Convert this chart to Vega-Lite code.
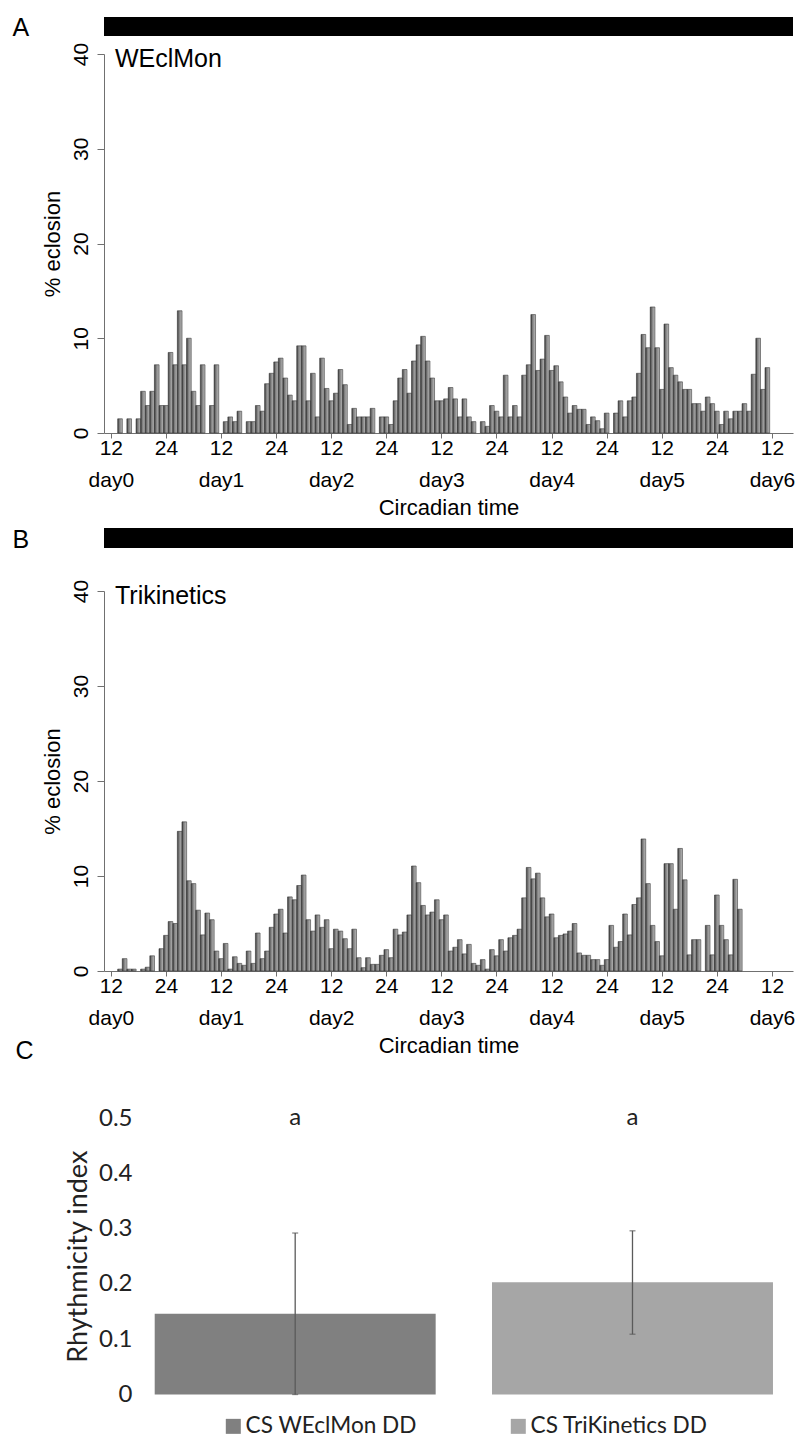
{
  "$schema": "https://vega.github.io/schema/vega-lite/v6.json",
  "padding": {"left": 12, "top": 15, "right": 0, "bottom": 0},
  "background": "white",
  "config": {
    "view": {"stroke": null},
    "font": "Liberation Sans",
    "axis": {"grid": false, "domainColor": "#707070", "tickColor": "#707070", "labelColor": "#000000", "titleColor": "#000000", "titleFontWeight": "normal"}
  },
  "datasets": {
    "wecl": [
      {"h": 2, "pct": 1.5}, {"h": 4, "pct": 1.5}, {"h": 6, "pct": 1.5}, {"h": 7, "pct": 4.4}, {"h": 8, "pct": 2.9},
      {"h": 9, "pct": 4.4}, {"h": 10, "pct": 7.2}, {"h": 11, "pct": 2.9}, {"h": 12, "pct": 2.9}, {"h": 13, "pct": 8.5},
      {"h": 14, "pct": 7.2}, {"h": 15, "pct": 12.9}, {"h": 16, "pct": 7.2}, {"h": 17, "pct": 10.0}, {"h": 18, "pct": 4.4},
      {"h": 19, "pct": 2.9}, {"h": 20, "pct": 7.2}, {"h": 22, "pct": 2.9}, {"h": 23, "pct": 7.2}, {"h": 25, "pct": 1.2},
      {"h": 26, "pct": 1.7}, {"h": 27, "pct": 1.2}, {"h": 28, "pct": 2.3}, {"h": 30, "pct": 1.2}, {"h": 31, "pct": 1.2},
      {"h": 32, "pct": 2.9}, {"h": 33, "pct": 2.3}, {"h": 34, "pct": 5.2}, {"h": 35, "pct": 6.3}, {"h": 36, "pct": 7.5},
      {"h": 37, "pct": 7.9}, {"h": 38, "pct": 5.8}, {"h": 39, "pct": 4.0}, {"h": 40, "pct": 3.4}, {"h": 41, "pct": 9.2},
      {"h": 42, "pct": 9.2}, {"h": 43, "pct": 3.4}, {"h": 44, "pct": 6.3}, {"h": 45, "pct": 1.7}, {"h": 46, "pct": 7.9},
      {"h": 47, "pct": 4.7}, {"h": 48, "pct": 3.4}, {"h": 49, "pct": 4.2}, {"h": 50, "pct": 6.7}, {"h": 51, "pct": 5.1},
      {"h": 52, "pct": 0.9}, {"h": 53, "pct": 2.6}, {"h": 54, "pct": 1.7}, {"h": 55, "pct": 1.7}, {"h": 56, "pct": 1.7},
      {"h": 57, "pct": 2.6}, {"h": 59, "pct": 1.7}, {"h": 60, "pct": 1.7}, {"h": 61, "pct": 0.9}, {"h": 62, "pct": 3.4},
      {"h": 63, "pct": 5.8}, {"h": 64, "pct": 6.7}, {"h": 65, "pct": 4.2}, {"h": 66, "pct": 7.6}, {"h": 67, "pct": 9.3},
      {"h": 68, "pct": 10.2}, {"h": 69, "pct": 7.6}, {"h": 70, "pct": 5.8}, {"h": 71, "pct": 3.4}, {"h": 72, "pct": 3.4},
      {"h": 73, "pct": 3.6}, {"h": 74, "pct": 4.8}, {"h": 75, "pct": 3.6}, {"h": 76, "pct": 1.7}, {"h": 77, "pct": 3.6},
      {"h": 78, "pct": 1.7}, {"h": 79, "pct": 1.2}, {"h": 81, "pct": 1.2}, {"h": 82, "pct": 0.7}, {"h": 83, "pct": 2.9},
      {"h": 84, "pct": 2.3}, {"h": 85, "pct": 1.7}, {"h": 86, "pct": 6.1}, {"h": 87, "pct": 1.7}, {"h": 88, "pct": 2.9},
      {"h": 89, "pct": 1.7}, {"h": 90, "pct": 6.1}, {"h": 91, "pct": 7.2}, {"h": 92, "pct": 12.5}, {"h": 93, "pct": 6.6},
      {"h": 94, "pct": 7.8}, {"h": 95, "pct": 10.3}, {"h": 96, "pct": 6.6}, {"h": 97, "pct": 7.1}, {"h": 98, "pct": 5.4},
      {"h": 99, "pct": 3.8}, {"h": 100, "pct": 2.1}, {"h": 101, "pct": 2.9}, {"h": 102, "pct": 2.5}, {"h": 103, "pct": 2.5},
      {"h": 104, "pct": 0.9}, {"h": 105, "pct": 1.7}, {"h": 106, "pct": 1.3}, {"h": 107, "pct": 0.45}, {"h": 108, "pct": 2.1},
      {"h": 110, "pct": 2.1}, {"h": 111, "pct": 3.4}, {"h": 112, "pct": 1.7}, {"h": 113, "pct": 3.4}, {"h": 114, "pct": 3.8},
      {"h": 115, "pct": 6.3}, {"h": 116, "pct": 10.4}, {"h": 117, "pct": 9.0}, {"h": 118, "pct": 13.3}, {"h": 119, "pct": 9.0},
      {"h": 120, "pct": 4.6}, {"h": 121, "pct": 11.5}, {"h": 122, "pct": 6.9}, {"h": 123, "pct": 6.1}, {"h": 124, "pct": 5.4},
      {"h": 125, "pct": 4.6}, {"h": 126, "pct": 4.6}, {"h": 127, "pct": 3.1}, {"h": 128, "pct": 3.1}, {"h": 129, "pct": 2.3},
      {"h": 130, "pct": 3.8}, {"h": 131, "pct": 3.1}, {"h": 132, "pct": 2.3}, {"h": 133, "pct": 0.9}, {"h": 134, "pct": 2.3},
      {"h": 135, "pct": 1.5}, {"h": 136, "pct": 2.3}, {"h": 137, "pct": 2.3}, {"h": 138, "pct": 3.1}, {"h": 139, "pct": 2.3},
      {"h": 140, "pct": 6.2}, {"h": 141, "pct": 10.0}, {"h": 142, "pct": 4.6}, {"h": 143, "pct": 6.9}
    ],
    "trik": [
      {"h": 2, "pct": 0.2}, {"h": 3, "pct": 1.3}, {"h": 4, "pct": 0.2}, {"h": 5, "pct": 0.2}, {"h": 7, "pct": 0.2},
      {"h": 8, "pct": 0.4}, {"h": 9, "pct": 1.6}, {"h": 11, "pct": 2.35}, {"h": 12, "pct": 3.75}, {"h": 13, "pct": 5.2},
      {"h": 14, "pct": 5.0}, {"h": 15, "pct": 14.7}, {"h": 16, "pct": 15.7}, {"h": 17, "pct": 9.5}, {"h": 18, "pct": 9.2},
      {"h": 19, "pct": 6.4}, {"h": 20, "pct": 3.8}, {"h": 21, "pct": 6.1}, {"h": 22, "pct": 5.4}, {"h": 23, "pct": 2.1},
      {"h": 24, "pct": 1.3}, {"h": 25, "pct": 2.9}, {"h": 26, "pct": 0.2}, {"h": 27, "pct": 1.5}, {"h": 28, "pct": 0.8},
      {"h": 29, "pct": 0.6}, {"h": 30, "pct": 2.1}, {"h": 31, "pct": 0.8}, {"h": 32, "pct": 4.0}, {"h": 33, "pct": 1.3},
      {"h": 34, "pct": 2.1}, {"h": 35, "pct": 4.6}, {"h": 36, "pct": 6.0}, {"h": 37, "pct": 6.5}, {"h": 38, "pct": 4.0},
      {"h": 39, "pct": 7.8}, {"h": 40, "pct": 7.5}, {"h": 41, "pct": 9.0}, {"h": 42, "pct": 10.1}, {"h": 43, "pct": 5.4},
      {"h": 44, "pct": 4.2}, {"h": 45, "pct": 5.9}, {"h": 46, "pct": 4.6}, {"h": 47, "pct": 5.4}, {"h": 48, "pct": 2.35},
      {"h": 49, "pct": 4.4}, {"h": 50, "pct": 4.2}, {"h": 51, "pct": 3.4}, {"h": 52, "pct": 2.35}, {"h": 53, "pct": 4.4},
      {"h": 54, "pct": 1.4}, {"h": 55, "pct": 0.35}, {"h": 56, "pct": 1.4}, {"h": 57, "pct": 0.7}, {"h": 58, "pct": 0.7},
      {"h": 59, "pct": 1.65}, {"h": 60, "pct": 2.25}, {"h": 61, "pct": 1.4}, {"h": 62, "pct": 4.4}, {"h": 63, "pct": 3.8},
      {"h": 64, "pct": 4.1}, {"h": 65, "pct": 5.9}, {"h": 66, "pct": 11.05}, {"h": 67, "pct": 9.3}, {"h": 68, "pct": 6.9},
      {"h": 69, "pct": 5.9}, {"h": 70, "pct": 6.2}, {"h": 71, "pct": 7.5}, {"h": 72, "pct": 5.4}, {"h": 73, "pct": 5.9},
      {"h": 74, "pct": 2.1}, {"h": 75, "pct": 2.5}, {"h": 76, "pct": 3.3}, {"h": 77, "pct": 1.8}, {"h": 78, "pct": 2.8},
      {"h": 79, "pct": 0.8}, {"h": 80, "pct": 0.6}, {"h": 81, "pct": 1.2}, {"h": 82, "pct": 0.2}, {"h": 83, "pct": 2.25},
      {"h": 84, "pct": 1.6}, {"h": 85, "pct": 3.3}, {"h": 86, "pct": 2.1}, {"h": 87, "pct": 3.5}, {"h": 88, "pct": 3.75},
      {"h": 89, "pct": 4.4}, {"h": 90, "pct": 7.7}, {"h": 91, "pct": 10.9}, {"h": 92, "pct": 9.7}, {"h": 93, "pct": 10.3},
      {"h": 94, "pct": 7.7}, {"h": 95, "pct": 5.7}, {"h": 96, "pct": 6.0}, {"h": 97, "pct": 3.5}, {"h": 98, "pct": 3.75},
      {"h": 99, "pct": 3.9}, {"h": 100, "pct": 4.2}, {"h": 101, "pct": 5.0}, {"h": 102, "pct": 1.9}, {"h": 103, "pct": 1.65},
      {"h": 104, "pct": 1.65}, {"h": 105, "pct": 1.2}, {"h": 106, "pct": 1.2}, {"h": 107, "pct": 0.6}, {"h": 108, "pct": 1.2},
      {"h": 109, "pct": 4.8}, {"h": 110, "pct": 2.5}, {"h": 111, "pct": 3.1}, {"h": 112, "pct": 6.0}, {"h": 113, "pct": 3.8},
      {"h": 114, "pct": 7.0}, {"h": 115, "pct": 7.7}, {"h": 116, "pct": 13.9}, {"h": 117, "pct": 9.2}, {"h": 118, "pct": 4.8},
      {"h": 119, "pct": 3.1}, {"h": 120, "pct": 1.6}, {"h": 121, "pct": 11.3}, {"h": 122, "pct": 11.3}, {"h": 123, "pct": 6.5},
      {"h": 124, "pct": 12.9}, {"h": 125, "pct": 9.6}, {"h": 126, "pct": 1.7}, {"h": 127, "pct": 3.3}, {"h": 128, "pct": 3.3},
      {"h": 130, "pct": 4.8}, {"h": 131, "pct": 1.7}, {"h": 132, "pct": 8.0}, {"h": 133, "pct": 4.8}, {"h": 134, "pct": 3.3},
      {"h": 135, "pct": 1.7}, {"h": 136, "pct": 9.65}, {"h": 137, "pct": 6.5}
    ],
    "ri": [
      {"group": "CS WEclMon DD", "ri": 0.146, "lo": 0.0, "hi": 0.292, "sig": "a"},
      {"group": "CS TriKinetics DD", "ri": 0.203, "lo": 0.109, "hi": 0.296, "sig": "a"}
    ]
  },
  "bounds": "flush",
  "spacing": 0,
  "vconcat": [
    {
      "data": {"values": [{"panel": "A", "start": -0.4, "end": 147.5}]},
      "width": 689,
      "height": 37,
      "mark": {"type": "rect", "color": "#000000"},
      "encoding": {
        "x": {"field": "start", "type": "quantitative", "scale": {"domain": [-0.4, 147.5], "nice": false, "zero": false}, "axis": null},
        "x2": {"field": "end"},
        "y": {"field": "panel", "type": "nominal", "scale": {"paddingInner": 0, "paddingOuter": 0.4737, "align": 0},
              "axis": {"title": null, "domain": false, "ticks": false, "tickSize": 0, "labelAlign": "left", "labelPadding": 92, "labelFontSize": 25, "labelOffset": 2}}
      }
    },
    {
      "width": 689,
      "height": 379,
      "layer": [
        {
          "data": {"name": "wecl"},
          "mark": {
            "type": "bar",
            "width": 4.66,
            "stroke": "#3a3a3a",
            "strokeWidth": 0.6,
            "color": {"gradient": "linear", "x1": 0, "y1": 0, "x2": 1, "y2": 0, "stops": [{"offset": 0, "color": "#2f2f2f"}, {"offset": 0.35, "color": "#7c7c7c"}, {"offset": 1, "color": "#bdbdbd"}]}
          },
          "encoding": {
            "x": {
              "field": "h", "type": "quantitative",
              "scale": {"domain": [-0.4, 147.5], "nice": false, "zero": false},
              "axis": {
                "values": [0, 12, 24, 36, 48, 60, 72, 84, 96, 108, 120, 132, 144],
                "labelExpr": "datum.value % 24 == 0 ? ['12', 'day' + (datum.value / 24)] : ['24', '']",
                "title": "Circadian time", "tickSize": 5, "labelPadding": -1, "labelFontSize": 21,
                "labelLineHeight": 32, "labelBaseline": "top", "labelOverlap": false, "labelFlush": false,
                "titleFontSize": 22, "titlePadding": 7
              }
            },
            "y": {
              "field": "pct", "type": "quantitative",
              "scale": {"domain": [0, 40], "nice": false},
              "axis": {
                "values": [0, 10, 20, 30, 40], "title": "% eclosion", "tickSize": 7, "labelAngle": 270,
                "labelAlign": "center", "labelBaseline": "alphabetic", "labelPadding": 10, "labelFontSize": 21,
                "titleFontSize": 22, "titlePadding": 6
              }
            }
          }
        },
        {
          "data": {"values": [{"label": "WEclMon"}]},
          "mark": {"type": "text", "align": "left", "baseline": "top", "fontSize": 25, "color": "#000000"},
          "encoding": {"x": {"datum": 0.9}, "y": {"datum": 40.7}, "text": {"field": "label"}}
        }
      ]
    },
    {
      "data": {"values": [{"panel": "B", "start": -0.4, "end": 147.5}]},
      "width": 689,
      "height": 158,
      "mark": {"type": "rect", "color": "#000000"},
      "encoding": {
        "x": {"field": "start", "type": "quantitative", "scale": {"domain": [-0.4, 147.5], "nice": false, "zero": false}, "axis": null},
        "x2": {"field": "end"},
        "y": {"field": "panel", "type": "nominal", "scale": {"paddingInner": 0.7101, "paddingOuter": 1, "align": 0.6884},
              "axis": {"title": null, "domain": false, "ticks": false, "tickSize": 0, "labelAlign": "left", "labelPadding": 92, "labelFontSize": 25, "labelOffset": 2}}
      }
    },
    {
      "width": 689,
      "height": 380,
      "layer": [
        {
          "data": {"name": "trik"},
          "mark": {
            "type": "bar",
            "width": 4.66,
            "stroke": "#3a3a3a",
            "strokeWidth": 0.6,
            "color": {"gradient": "linear", "x1": 0, "y1": 0, "x2": 1, "y2": 0, "stops": [{"offset": 0, "color": "#2f2f2f"}, {"offset": 0.35, "color": "#7c7c7c"}, {"offset": 1, "color": "#bdbdbd"}]}
          },
          "encoding": {
            "x": {
              "field": "h", "type": "quantitative",
              "scale": {"domain": [-0.4, 147.5], "nice": false, "zero": false},
              "axis": {
                "values": [0, 12, 24, 36, 48, 60, 72, 84, 96, 108, 120, 132, 144],
                "labelExpr": "datum.value % 24 == 0 ? ['12', 'day' + (datum.value / 24)] : ['24', '']",
                "title": "Circadian time", "tickSize": 5, "labelPadding": -1, "labelFontSize": 21,
                "labelLineHeight": 32, "labelBaseline": "top", "labelOverlap": false, "labelFlush": false,
                "titleFontSize": 22, "titlePadding": 7
              }
            },
            "y": {
              "field": "pct", "type": "quantitative",
              "scale": {"domain": [0, 40], "nice": false},
              "axis": {
                "values": [0, 10, 20, 30, 40], "title": "% eclosion", "tickSize": 7, "labelAngle": 270,
                "labelAlign": "center", "labelBaseline": "alphabetic", "labelPadding": 10, "labelFontSize": 21,
                "titleFontSize": 22, "titlePadding": 6
              }
            }
          }
        },
        {
          "data": {"values": [{"label": "Trikinetics"}]},
          "mark": {"type": "text", "align": "left", "baseline": "top", "fontSize": 25, "color": "#000000"},
          "encoding": {"x": {"datum": 0.9}, "y": {"datum": 40.7}, "text": {"field": "label"}}
        }
      ]
    },
    {
      "data": {"values": [{"panel": "C", "start": -0.4, "end": 147.5}]},
      "width": 689,
      "height": 146.5,
      "mark": {"type": "rect", "opacity": 0},
      "encoding": {
        "x": {"field": "start", "type": "quantitative", "scale": {"domain": [-0.4, 147.5], "nice": false, "zero": false}, "axis": null},
        "x2": {"field": "end"},
        "y": {"field": "panel", "type": "nominal", "scale": {"paddingInner": 0.6838, "paddingOuter": 1, "align": 0.5534},
              "axis": {"title": null, "domain": false, "ticks": false, "tickSize": 0, "labelAlign": "left", "labelPadding": 89, "labelFontSize": 25, "labelOffset": 0}}
      }
    },
    {
      "data": {"name": "ri"},
      "width": 697,
      "height": 276.5,
      "encoding": {
        "x": {"field": "group", "type": "nominal", "sort": null, "scale": {"paddingInner": 0.167, "paddingOuter": 0.1167, "align": 0.644}, "axis": null}
      },
      "layer": [
        {
          "mark": {"type": "bar"},
          "encoding": {
            "y": {
              "field": "ri", "type": "quantitative", "scale": {"domain": [0, 0.5], "nice": false},
              "axis": {
                "values": [0, 0.1, 0.2, 0.3, 0.4, 0.5], "labelExpr": "datum.value == 0 ? '0' : format(datum.value, '.1f')",
                "domain": false, "ticks": false, "tickSize": 0, "offset": -30, "labelPadding": 2, "labelFont": "Lato", "labelFontSize": 24,
                "labelColor": "#222222", "title": "Rhythmicity index", "titleFont": "Lato", "titleFontSize": 27, "titlePadding": 6, "titleColor": "#222222"
              }
            },
            "color": {
              "field": "group", "type": "nominal", "sort": null,
              "scale": {"range": ["#808080", "#a6a6a6"]},
              "legend": {
                "orient": "none", "legendX": 118, "legendY": 1398, "direction": "horizontal", "title": null,
                "symbolType": "square", "symbolSize": 225, "symbolStrokeWidth": 0, "labelFont": "Lato", "labelFontSize": 22.6,
                "labelColor": "#222222", "labelOffset": 1, "columnPadding": 90, "labelLimit": 400
              }
            }
          }
        },
        {
          "mark": {"type": "rule", "color": "#5a5a5a", "strokeWidth": 1.3},
          "encoding": {"y": {"field": "lo", "type": "quantitative"}, "y2": {"field": "hi"}}
        },
        {
          "mark": {"type": "tick", "color": "#5a5a5a", "size": 6, "thickness": 1.3},
          "encoding": {"y": {"field": "hi", "type": "quantitative"}}
        },
        {
          "mark": {"type": "tick", "color": "#5a5a5a", "size": 6, "thickness": 1.3},
          "encoding": {"y": {"field": "lo", "type": "quantitative"}}
        },
        {
          "mark": {"type": "text", "font": "Lato", "fontSize": 24, "color": "#222222", "baseline": "middle"},
          "encoding": {"y": {"datum": 0.5}, "text": {"field": "sig"}}
        }
      ]
    }
  ]
}
